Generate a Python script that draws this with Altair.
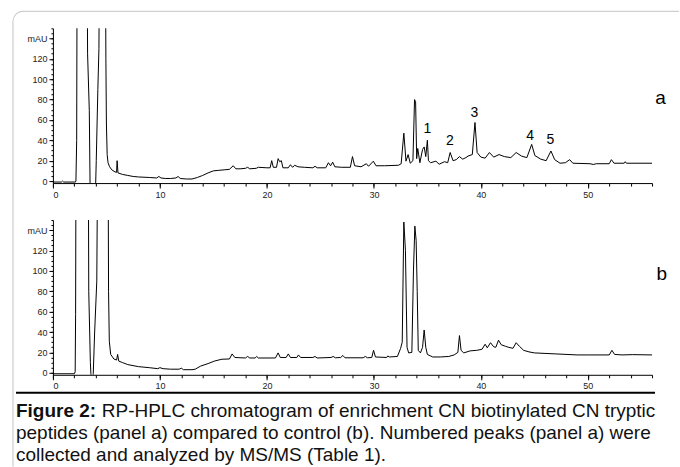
import altair as alt
import pandas as pd

# ---------------- data ----------------
top_time = [0.0, 0.8, 0.9, 1.0, 2.1, 2.15, 2.22, 2.3, 3.12, 3.24, 3.4, 3.47, 3.5, 3.95, 4.0, 4.05, 4.2, 4.3,
            4.45, 4.85, 4.95, 5.0, 5.07, 5.15, 5.3, 5.5, 5.8, 5.95, 6.0, 6.08, 6.5, 7.0, 7.5, 8.0, 9.0, 9.7,
            9.9, 10.1, 10.5, 11.0, 11.5, 11.7, 11.9, 12.5, 13.0, 13.5, 14.0, 14.5, 15.0, 15.5, 16.0, 16.5,
            16.85, 17.1, 17.5, 18.0, 18.2, 18.4, 19.0, 19.2, 20.0, 20.3, 20.45, 20.6, 20.9, 21.05, 21.2,
            21.35, 21.5, 22.0, 22.2, 22.4, 22.6, 22.9, 23.5, 24.3, 24.5, 24.7, 25.5, 25.75, 25.95, 26.15,
            26.35, 27.0, 27.8, 28.0, 28.2, 28.8, 29.3, 29.5, 29.95, 30.2, 31.0, 32.3, 32.55, 32.8, 33.0,
            33.2, 33.4, 33.65, 33.8, 33.9, 34.0, 34.1, 34.3, 34.55, 34.7, 34.85, 35.0, 35.1, 35.3, 35.8,
            36.1, 36.6, 36.9, 37.13, 37.4, 37.7, 38.0, 38.3, 38.6, 38.8, 39.2, 39.45, 39.65, 40.0, 40.4,
            40.8, 41.2, 41.7, 42.2, 42.8, 43.3, 43.8, 44.3, 44.75, 45.05, 45.6, 46.1, 46.55, 46.9, 47.4,
            47.9, 48.3, 48.6, 50.2, 50.5, 50.8, 52.0, 52.2, 52.45, 53.4, 53.5, 53.6, 56.0]
top_mau = [-1, -1, 0, -1, -1, 0, 40, 400, 400, 125, 69, -1, -10, -10, -1, 20, 90, 130,
           400, 400, 120, 56, 26, 18, 14, 11, 9, 8.5, 20, 8, 6.5, 5.5, 4.5, 4, 3.5, 3,
           4.5, 3, 2.5, 2.5, 3, 4.5, 2.5, 2, 2, 3.5, 5.5, 8, 10, 10.5, 11, 11.5,
           15, 12, 12, 12.5, 13.5, 12, 12.5, 13.5, 13, 13, 20, 13.5, 13.5, 22, 19,
           20, 13, 13, 16, 13.5, 15.5, 14, 13.5, 13, 14.5, 13, 13, 18, 15, 18.5,
           14, 13.5, 13.5, 24, 15, 14, 17, 14.5, 19.5, 15, 15, 15.5, 17, 47, 19.5,
           26, 17.5, 20, 80, 78, 22, 32, 18, 31, 33.5, 24, 40, 20, 18, 19.5,
           16.5, 19, 18, 28, 20, 21, 24, 21.5, 23, 24.5, 26, 57.5, 28, 23.5, 22.5,
           28, 23.5, 26, 24, 23, 28, 24.5, 23, 36, 25, 21.5, 20, 29.5, 21, 17.5,
           18, 21, 17.5, 17, 16.3, 17, 17, 21, 17.5, 17.5, 19, 17.5, 17.5]

bottom_time = [0.0, 2.0, 2.08, 2.12, 2.2, 3.25, 3.35, 3.5, 3.55, 3.6, 3.72, 3.77, 3.9, 4.1, 4.3, 5.1, 5.2,
               5.27, 5.4, 5.7, 5.95, 6.05, 6.15, 6.5, 7.0, 8.0, 9.0, 9.8, 10.0, 10.3, 11.0, 11.8, 12.0,
               12.2, 13.0, 13.3, 13.8, 14.5, 15.1, 15.8, 16.5, 16.75, 17.0, 18.0, 18.2, 18.4, 18.9, 19.05,
               19.2, 20.8, 21.05, 21.25, 21.8, 22.0, 22.2, 22.8, 22.95, 23.15, 24.3, 24.5, 24.7, 26.0,
               26.2, 26.4, 26.9, 27.1, 27.3, 29.0, 29.2, 29.4, 29.8, 29.97, 30.15, 31.2, 31.3, 31.45,
               32.2, 32.5, 32.65, 32.8, 32.95, 33.1, 33.25, 33.55, 33.7, 33.83, 33.95, 34.05, 34.15,
               34.35, 34.55, 34.7, 34.85, 35.0, 35.5, 36.2, 37.0, 37.5, 37.85, 38.0, 38.15, 38.4, 39.0,
               39.6, 40.1, 40.4, 40.6, 40.9, 41.2, 41.4, 41.65, 41.9, 42.3, 42.6, 43.0, 43.3, 43.6,
               44.0, 44.5, 45.0, 46.0, 47.0, 49.0, 50.0, 52.0, 52.25, 52.5, 53.2, 54.2, 56.0]
bottom_mau = [-1, -1, 1, 57, 400, 400, 80, 10, -1, -10, -10, -1, 40, 90, 400, 400, 80,
              31, 18, 13.5, 12.5, 18, 11.5, 10, 8, 6, 5, 4, 5, 4, 3.5, 3.5, 4.5,
              3, 3, 3.5, 6.5, 9, 11.5, 13.3, 13.5, 18.5, 15, 14.5, 16, 14.5, 14.5, 16,
              14.5, 14.5, 19.5, 15, 15, 18.5, 15, 15, 17.5, 15, 15, 16, 14.5, 15,
              16, 14.7, 15, 17, 14.7, 14.7, 16, 14.7, 15, 22, 15.5, 15, 16.5, 15.5,
              16, 24, 30, 148, 120, 25, 19.5, 20, 100, 144, 130, 80, 22,
              19.5, 25, 42, 25, 18, 15.5, 15.5, 16, 17.5, 20, 36.5, 22, 19.5, 21.5,
              22, 23, 28, 24.5, 29.5, 25.5, 25, 32, 27.5, 26, 25, 24, 29.5, 26,
              22, 20.5, 19.5, 19, 18.5, 17.5, 17.5, 17.5, 22, 18, 17.5, 17.8, 17.5]

peak_labels = ["1", "2", "3", "4", "5"]
peak_label_time = [35.0, 37.1, 39.4, 44.6, 46.5]
peak_label_mau = [51, 39, 67, 44, 40]

panel_letters = ["a", "b"]
panel_letter_time = [56.8, 56.9]
panel_letter_mau = [82, 97]

x_major = [0, 10, 20, 30, 40, 50]
x_minor = list(range(0, 57, 2))
y_major = [0, 20, 40, 60, 80, 100, 120, 140]
y_minor = list(range(0, 151, 5))

caption_bold = "Figure 2:"
caption_lines = [
    "RP-HPLC chromatogram of enrichment CN biotinylated CN tryptic",
    "peptides (panel a) compared to control (b). Numbered peaks (panel a) were",
    "collected and analyzed by MS/MS (Table 1).",
]

X_DOMAIN = [0, 56]
Y_DOMAIN = [-2, 150]
W, H = 600, 155
BORDER = "#c4c4c4"
FONT = "Liberation Sans"


def axes_layers(df):
    xs = alt.Scale(domain=X_DOMAIN, nice=False, zero=False)
    ys = alt.Scale(domain=Y_DOMAIN, nice=False, zero=False)
    line = alt.Chart(df).mark_line(color="black", strokeWidth=1, clip=True).encode(
        x=alt.X("t:Q", scale=xs, axis=alt.Axis(values=x_major, format="d", title=None, tickSize=5,
                                               labelPadding=2, orient="bottom")),
        y=alt.Y("v:Q", scale=ys, axis=alt.Axis(values=y_major, title=None, tickSize=4, labelPadding=2,
                                               orient="left",
                                               labelExpr="datum.value == 140 ? 'mAU' : datum.label")),
    )
    minor = alt.Chart(df).mark_line(strokeOpacity=0, clip=True).encode(
        x=alt.X("t:Q", scale=xs, axis=alt.Axis(values=x_minor, title=None, tickSize=3, labels=False,
                                               domain=False, orient="bottom")),
        y=alt.Y("v:Q", scale=ys, axis=alt.Axis(values=y_minor, title=None, tickSize=2, labels=False,
                                               domain=False, orient="left")),
    )
    return line, minor


# ---------------- top panel ----------------
top_df = pd.DataFrame({"t": top_time, "v": top_mau})
top_line, top_minor = axes_layers(top_df)

peaks_df = pd.DataFrame({"label": peak_labels, "t": peak_label_time, "v": peak_label_mau})
peak_text = alt.Chart(peaks_df).mark_text(font=FONT, fontSize=14, color="black", baseline="middle",
                                          align="center").encode(
    x=alt.X("t:Q", axis=None), y=alt.Y("v:Q", axis=None), text="label:N")

letters_df = pd.DataFrame({"label": panel_letters, "t": panel_letter_time, "v": panel_letter_mau})
letter_a = alt.Chart(letters_df.iloc[[0]]).mark_text(font=FONT, fontSize=19, color="black",
                                                     baseline="middle", align="center").encode(
    x=alt.X("t:Q", axis=None), y=alt.Y("v:Q", axis=None), text="label:N")

top_border = alt.Chart().mark_rule(color=BORDER, strokeWidth=1).encode(
    x=alt.value(-30), x2=alt.value(627), y=alt.value(-17))
corner = alt.Chart().mark_arc(color=BORDER).encode(
    x=alt.value(-30), y=alt.value(-7), theta=alt.value(4.712), theta2=alt.value(6.283),
    radius=alt.value(10.5), radius2=alt.value(9.5))

top = alt.layer(top_line, top_minor, peak_text, letter_a, top_border, corner).resolve_axis(
    x="independent", y="independent").properties(width=W, height=H)

# ---------------- bottom panel ----------------
bot_df = pd.DataFrame({"t": bottom_time, "v": bottom_mau})
bot_line, bot_minor = axes_layers(bot_df)
letter_b = alt.Chart(letters_df.iloc[[1]]).mark_text(font=FONT, fontSize=19, color="black",
                                                     baseline="middle", align="center").encode(
    x=alt.X("t:Q", axis=None), y=alt.Y("v:Q", axis=None), text="label:N")

left_border = alt.Chart().mark_rule(color=BORDER, strokeWidth=1).encode(
    x=alt.value(-40), y=alt.value(-199), y2=alt.value(247))
black_rule = alt.Chart().mark_rule(color="black", strokeWidth=2).encode(
    x=alt.value(-37), x2=alt.value(603), y=alt.value(173))

cap_bold = alt.Chart().mark_text(font=FONT, fontSize=19, fontWeight="bold", color="#111",
                                 align="left", baseline="alphabetic").encode(
    x=alt.value(-37), y=alt.value(197), text=alt.value(caption_bold))
cap1 = alt.Chart().mark_text(font=FONT, fontSize=19, color="#111", align="left",
                             baseline="alphabetic").encode(
    x=alt.value(49), y=alt.value(197), text=alt.value(caption_lines[0]))
cap2 = alt.Chart().mark_text(font=FONT, fontSize=19, color="#111", align="left",
                             baseline="alphabetic").encode(
    x=alt.value(-37), y=alt.value(219), text=alt.value(caption_lines[1]))
cap3 = alt.Chart().mark_text(font=FONT, fontSize=19, color="#111", align="left",
                             baseline="alphabetic").encode(
    x=alt.value(-37), y=alt.value(241), text=alt.value(caption_lines[2]))

bottom = alt.layer(bot_line, bot_minor, letter_b, left_border, black_rule,
                   cap_bold, cap1, cap2, cap3).resolve_axis(
    x="independent", y="independent").properties(width=W, height=H)

chart = alt.vconcat(top, bottom, spacing=37, bounds="flush").properties(
    padding={"left": 12, "top": 10, "right": 0, "bottom": 0}, background="white"
).configure_axis(
    grid=False, labelFont=FONT, labelFontSize=9, labelColor="#222",
    domainColor="black", tickColor="black", domainWidth=1, tickWidth=1
).configure_view(stroke=None)

chart.save("out.html", embed_options={"renderer": "svg", "actions": False})
